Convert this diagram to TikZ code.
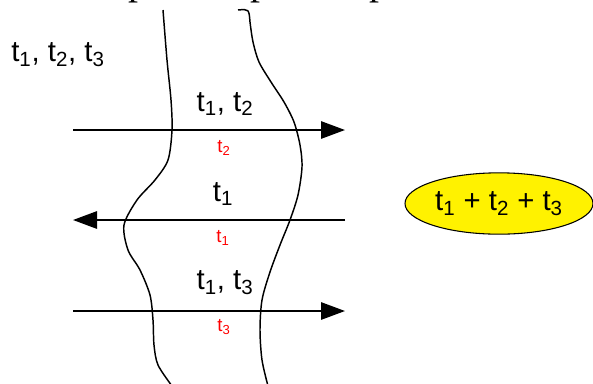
\documentclass[tikz,border=0pt]{standalone}
\usepackage{fontspec}
\setmainfont{Liberation Sans}
\newfontfamily\cutserif{Liberation Serif}
\usetikzlibrary{arrows.meta,shapes.geometric}
\tikzset{
  lbl/.style    ={font=\fontsize{22}{26}\selectfont, inner sep=0pt},
  sublbl/.style ={font=\fontsize{14}{16}\selectfont, text=red, inner sep=0pt},
  cutoff/.style ={font=\cutserif\fontsize{30}{34}\selectfont, inner sep=0pt, anchor=base west},
  msg/.style    ={-{Triangle[length=18pt,width=13pt]}, line width=1.4pt},
  wavy/.style   ={line width=1.1pt},
  total/.style  ={ellipse, draw=black, line width=0.8pt, fill=yellow,
                  minimum width=141pt, minimum height=46pt, inner sep=0pt,
                  font=\fontsize{22}{26}\selectfont},
}
\newcommand{\tsub}[1]{t\textsubscript{#1}}
\begin{document}
\begin{tikzpicture}[x=0.75pt,y=-0.75pt]
\useasboundingbox (0,0) rectangle (593,383);

% fragments of the line above, cut at the top edge
\node[cutoff] (p1) at (128,-6) {p};
\node[cutoff] (p2) at (250,-6) {p};
\node[cutoff] (p3) at (369,-6) {p};

% the two wavy borders
\draw[wavy] plot[smooth] coordinates {(163,10) (167,60) (171,100) (172,130)
  (168,160) (155,180) (137,200) (124,225) (128,250) (140,270) (150,295)
  (153,320) (154,345) (158,365) (172,386)};
\draw[wavy] (238,10) .. controls (249,9) .. (250,22)
  -- plot[smooth] coordinates {(250,22) (253,42) (259,62) (271,82) (284,102)
  (294,122) (300,145) (302,167) (298,195) (290,220) (280,245) (270,272)
  (262,300) (260,330) (262,360) (268,386)};

% messages
\coordinate (m1l) at (73,130);  \coordinate (m1r) at (345,130);
\coordinate (m2l) at (73,220);  \coordinate (m2r) at (345,220);
\coordinate (m3l) at (73,311);  \coordinate (m3r) at (345,311);
\draw[msg] (m1l) -- (m1r);
\draw[msg] (m2r) -- (m2l);
\draw[msg] (m3l) -- (m3r);

\node[lbl] (all)  at (58,55)   {\tsub{1}, \tsub{2}, \tsub{3}};
\node[lbl] (l12)  at (225,104) {\tsub{1}, \tsub{2}};
\node[sublbl] (r2) at (224,148) {\tsub{2}};
\node[lbl] (l1)   at (223,194) {\tsub{1}};
\node[sublbl] (r1) at (223,238) {\tsub{1}};
\node[lbl] (l13)  at (225,283) {\tsub{1}, \tsub{3}};
\node[sublbl] (r3) at (224,327) {\tsub{3}};

\node[total] (sum) at (499,203.5) {\tsub{1} + \tsub{2} + \tsub{3}};
\end{tikzpicture}
\end{document}
